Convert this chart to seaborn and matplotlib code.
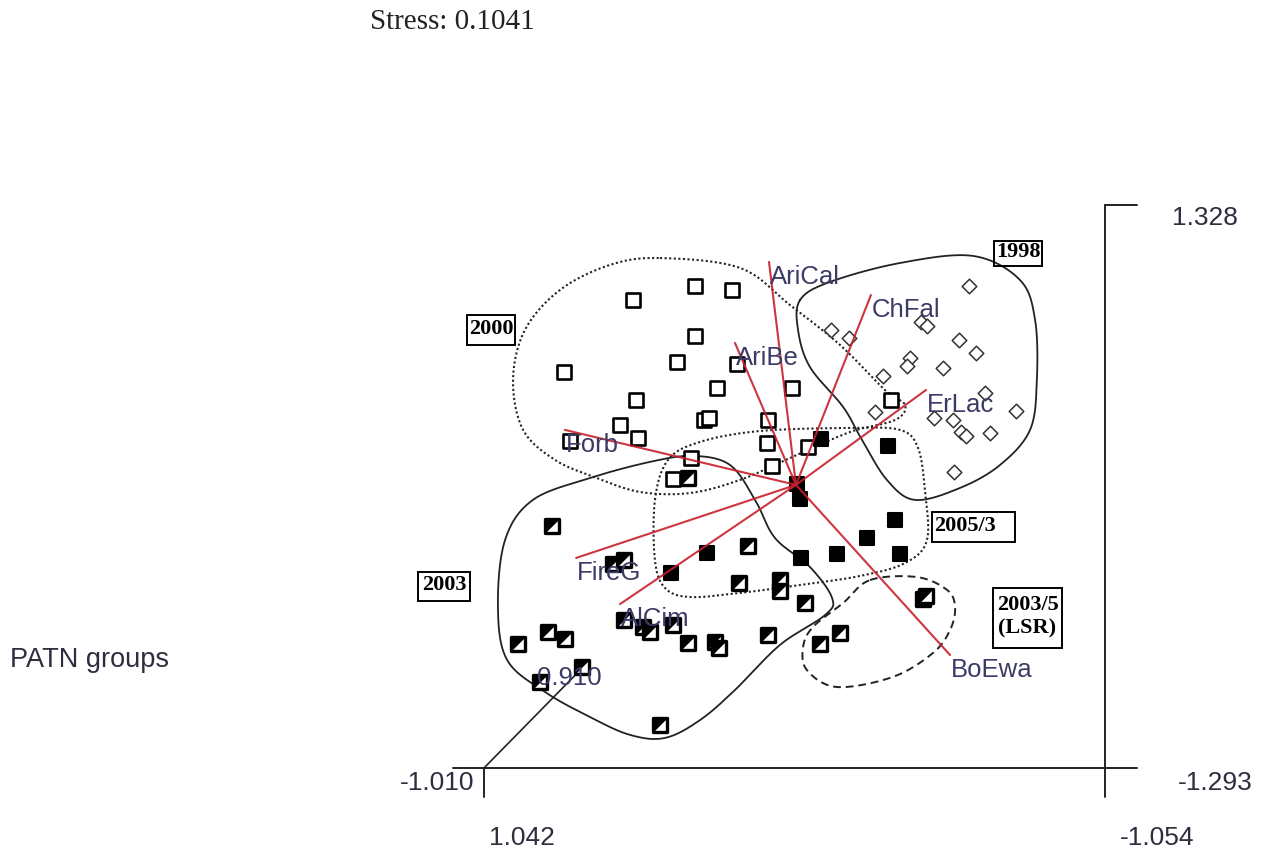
import numpy as np
import pandas as pd
import matplotlib
matplotlib.use("Agg")
import matplotlib.pyplot as plt
from matplotlib.path import Path
from matplotlib.patches import Rectangle
import seaborn as sns

sns.set_theme(style="white")
plt.rcParams["font.family"] = ["Liberation Sans", "DejaVu Sans"]

# ---- NMDS site scores (axis 1 horizontal, axis 2 vertical) ----
yr1998_x = [-0.595, -0.129, -0.190, -0.433, -0.453, -0.561, -0.619, -0.396, -0.386, -0.507,
            -0.305, -0.278, -0.477, -0.541, -0.568, -0.585, -0.666, -0.649, -0.754, -0.544]
yr1998_y = [0.951, 0.746, 0.709, 0.783, 0.765, 0.700, 0.639, 0.616, 0.578, 0.569,
            0.532, 0.364, 0.336, 0.327, 0.271, 0.253, 0.267, 0.453, 0.369, 0.085]

yr2000_x = [0.539, 0.330, 0.205, 0.330, 0.772, 0.391, 0.188, 0.256, 0.002, 0.529, 0.300,
            0.283, 0.583, 0.083, 0.522, 0.752, 0.087, 0.343, 0.404, 0.070, -0.332, -0.052]
yr2000_y = [0.886, 0.951, 0.932, 0.718, 0.551, 0.597, 0.588, 0.476, 0.476, 0.420, 0.327,
            0.336, 0.304, 0.327, 0.243, 0.229, 0.220, 0.150, 0.052, 0.113, 0.420, 0.201]

yr2005_x = [-0.095, -0.322, -0.014, -0.025, -0.345, -0.251, -0.149, -0.028, -0.362, 0.289, 0.411]
yr2005_y = [0.239, 0.206, 0.029, -0.041, -0.139, -0.222, -0.297, -0.315, -0.297, -0.292, -0.385]

yr2003_x = [0.812, 0.607, 0.570, 0.353, 0.151, 0.181, 0.043, 0.043, -0.041, 0.826, 0.769, 0.927,
            0.711, 0.853, 0.570, 0.505, 0.482, 0.404, 0.353, 0.262, 0.249, 0.083, 0.448]
yr2003_y = [-0.166, -0.343, -0.325, 0.057, -0.260, -0.432, -0.418, -0.469, -0.525, -0.660, -0.693,
            -0.716, -0.823, -0.893, -0.604, -0.637, -0.660, -0.627, -0.711, -0.706, -0.734, -0.674, -1.093]

lsr_x = [-0.440, -0.450, -0.160, -0.092]
lsr_y = [-0.506, -0.492, -0.665, -0.716]

# ---- species vectors ----
species = ["AriCal", "ChFal", "AriBe", "ErLac", "Forb", "FireG", "AlCim", "BoEwa"]
vec_x = [0.080, -0.264, 0.195, -0.450, 0.769, 0.731, 0.583, -0.531]
vec_y = [1.063, 0.909, 0.686, 0.467, 0.281, -0.315, -0.530, -0.767]
vec_origin = (-0.011, 0.025)

# ---- PATN group outlines ----
hull_2000_x = [0.448, 0.178, 0.009, -0.160, -0.311, -0.379, -0.345, -0.193, 0.009, 0.178,
               0.347, 0.515, 0.661, 0.802, 0.910, 0.944, 0.904, 0.786, 0.617]
hull_2000_y = [1.081, 1.035, 0.862, 0.676, 0.467, 0.397, 0.327, 0.271, 0.150, 0.048,
               -0.013, -0.008, 0.057, 0.141, 0.281, 0.513, 0.746, 0.932, 1.049]
hull_1998_x = [-0.025, -0.126, -0.362, -0.608, -0.767, -0.818, -0.824, -0.801, -0.700,
               -0.565, -0.413, -0.318, -0.234, -0.170, -0.058, -0.018]
hull_1998_y = [0.886, 0.970, 1.058, 1.091, 0.979, 0.793, 0.513, 0.281, 0.118,
               0.011, -0.045, 0.048, 0.234, 0.388, 0.574, 0.746]
hull_2005_x = [0.465, 0.421, 0.313, 0.110, -0.193, -0.362, -0.423, -0.446, -0.453, -0.379,
               -0.227, -0.025, 0.178, 0.347, 0.431, 0.465]
hull_2005_y = [-0.045, 0.141, 0.225, 0.276, 0.290, 0.281, 0.197, 0.001, -0.232, -0.339,
               -0.399, -0.441, -0.478, -0.497, -0.455, -0.325]
hull_2003_x = [0.337, 0.212, 0.127, 0.060, -0.058, -0.133, -0.109, 0.043, 0.195, 0.313,
               0.431, 0.549, 0.684, 0.836, 0.964, 0.995, 0.971, 0.877, 0.684, 0.482]
hull_2003_y = [0.160, 0.118, -0.045, -0.222, -0.357, -0.502, -0.581, -0.720, -0.930, -1.070,
               -1.153, -1.139, -1.056, -0.939, -0.790, -0.544, -0.232, -0.045, 0.057, 0.132]
hull_lsr_x = [-0.261, -0.419, -0.521, -0.548, -0.531, -0.473, -0.338, -0.149, -0.048, -0.035, -0.068, -0.170]
hull_lsr_y = [-0.418, -0.404, -0.464, -0.544, -0.651, -0.758, -0.869, -0.916, -0.837, -0.730, -0.637, -0.525]

# ---- frame ranges ----
ax1_range = (1.042, -1.054)
ax2_range = (-1.293, 1.328)
ax3_range = (-1.010, 0.910)
diag_end = (0.691, -0.800)

W, H = 1269, 852


def fx(px):
    return px / W


def fy(py):
    return 1 - py / H


def closed_spline(xs, ys, n=40):
    pts = np.column_stack([xs, ys])
    m = len(pts)
    t = np.linspace(0, 1, n, endpoint=False)[:, None]
    segs = []
    for i in range(m):
        p0, p1, p2, p3 = pts[i - 1], pts[i], pts[(i + 1) % m], pts[(i + 2) % m]
        segs.append(0.5 * (2 * p1 + (-p0 + p2) * t + (2 * p0 - 5 * p1 + 4 * p2 - p3) * t ** 2
                           + (-p0 + 3 * p1 - 3 * p2 + p3) * t ** 3))
    out = np.vstack(segs + [segs[0][:1]])
    return out[:, 0], out[:, 1]


fig = plt.figure(figsize=(W / 100, H / 100), dpi=100)
fig.patch.set_facecolor("white")
ax = fig.add_axes([fx(484), fy(768), (1105 - 484) / W, (768 - 205) / H])
ax.set_xlim(*ax1_range)
ax.set_ylim(*ax2_range)
ax.axis("off")

# frame of the ordination box
frame_kw = dict(color="#222222", lw=1.4, clip_on=False, zorder=1)
x_far = -1.162
x_near = 1.147
y_low = -1.428
ax.plot([ax1_range[1], ax1_range[1]], [y_low, ax2_range[1]], **frame_kw)
ax.plot([ax1_range[1], x_far], [ax2_range[1], ax2_range[1]], **frame_kw)
ax.plot([x_near, x_far], [ax2_range[0], ax2_range[0]], **frame_kw)
ax.plot([ax1_range[0], ax1_range[0]], [ax2_range[0], y_low], **frame_kw)
ax.plot([ax1_range[0], diag_end[0]], [ax2_range[0], diag_end[1]], color="#222222", lw=1.2,
        clip_on=False, zorder=1)

# group outlines
outline_styles = [
    (hull_2000_x, hull_2000_y, dict(ls=(0, (1, 1.2)), lw=1.5)),
    (hull_1998_x, hull_1998_y, dict(ls="-", lw=1.3)),
    (hull_2005_x, hull_2005_y, dict(ls=(0, (1, 1.2)), lw=1.5)),
    (hull_2003_x, hull_2003_y, dict(ls="-", lw=1.3)),
    (hull_lsr_x, hull_lsr_y, dict(ls=(0, (4, 2.5)), lw=1.4)),
]
for hx, hy, kw in outline_styles:
    sx, sy = closed_spline(hx, hy)
    ax.plot(sx, sy, color="#222222", clip_on=False, zorder=2, **kw)

# site markers
sq_size = 100
sns.scatterplot(x=yr2000_x, y=yr2000_y, marker="s", s=sq_size, color="white",
                edgecolor="black", linewidth=1.9, ax=ax, zorder=3, legend=False)
sns.scatterplot(x=yr1998_x, y=yr1998_y, marker="D", s=55, color="white",
                edgecolor="#333333", linewidth=1.1, ax=ax, zorder=3, legend=False)
sns.scatterplot(x=yr2005_x, y=yr2005_y, marker="s", s=sq_size, color="black",
                edgecolor="black", linewidth=1.5, ax=ax, zorder=3, legend=False)

half_tri = Path([(-1, 1), (1, 1), (-1, -1), (-1, 1)],
                [Path.MOVETO, Path.LINETO, Path.LINETO, Path.CLOSEPOLY])
for hx, hy in [(yr2003_x, yr2003_y), (lsr_x, lsr_y)]:
    sns.scatterplot(x=hx, y=hy, marker="s", s=sq_size, color="white",
                    edgecolor="black", linewidth=2.4, ax=ax, zorder=3, legend=False)
    sns.scatterplot(x=hx, y=hy, marker=half_tri, s=sq_size * 0.95, color="black",
                    linewidth=0, ax=ax, zorder=3.1, legend=False)

# species vectors
vec_df = pd.DataFrame({"species": species, "x": vec_x, "y": vec_y})
for _, r in vec_df.iterrows():
    ax.plot([vec_origin[0], r.x], [vec_origin[1], r.y], color="#c8202c", lw=1.5,
            alpha=0.9, zorder=4)
    ax.annotate(r.species, (r.x, r.y), xytext=(1, -15), textcoords="offset pixels",
                ha="left", va="center", fontsize=18.5, color="#3b3b66", zorder=5,
                annotation_clip=False)

# axis-3 label along the diagonal
ax.annotate(f"{ax3_range[1]:.3f}", diag_end, xytext=(-51, -16), textcoords="offset pixels",
            ha="left", va="center", fontsize=18.5, color="#3b3b66", zorder=5,
            annotation_clip=False)

# range labels
tick_kw = dict(fontsize=19, color="#2e2e3e", va="center")
fig.text(fx(1172), fy(218), f"{ax2_range[1]:.3f}", ha="left", **tick_kw)
fig.text(fx(1178), fy(783), f"{ax2_range[0]:.3f}", ha="left", **tick_kw)
fig.text(fx(474), fy(783), f"{ax3_range[0]:.3f}", ha="right", **tick_kw)
fig.text(fx(522), fy(838), f"{ax1_range[0]:.3f}", ha="center", **tick_kw)
fig.text(fx(1157), fy(838), f"{ax1_range[1]:.3f}", ha="center", **tick_kw)

fig.text(fx(10), fy(660), "PATN groups", ha="left", va="center", fontsize=19.5, color="#2e2e3e")
fig.text(fx(370), fy(22), "Stress: 0.1041", ha="left", va="center", fontsize=21,
         family=["Liberation Serif", "DejaVu Serif"], color="#222222")

# boxed group labels
group_boxes = [
    ("1998", 994, 241, 1042, 266, "center"),
    ("2000", 467, 315, 515, 345, "center"),
    ("2005/3", 932, 512, 1015, 542, "left"),
    ("2003", 418, 572, 470, 601, "center"),
    ("2003/5\n(LSR)", 993, 588, 1062, 648, "center"),
]
for txt, x0, y0, x1, y1, align in group_boxes:
    fig.add_artist(Rectangle((fx(x0), fy(y1)), (x1 - x0) / W, (y1 - y0) / H,
                             transform=fig.transFigure, fill=False, edgecolor="black", lw=1.4))
    tx = fx(x0 + 2) if align == "left" else fx((x0 + x1) / 2)
    fig.text(tx, fy((y0 + y1) / 2 - 1), txt, ha=align, va="center", fontsize=16,
             fontweight="heavy", family=["Liberation Serif", "DejaVu Serif"],
             color="black", linespacing=1.2)

fig.savefig("out.png", dpi=100, facecolor="white")
